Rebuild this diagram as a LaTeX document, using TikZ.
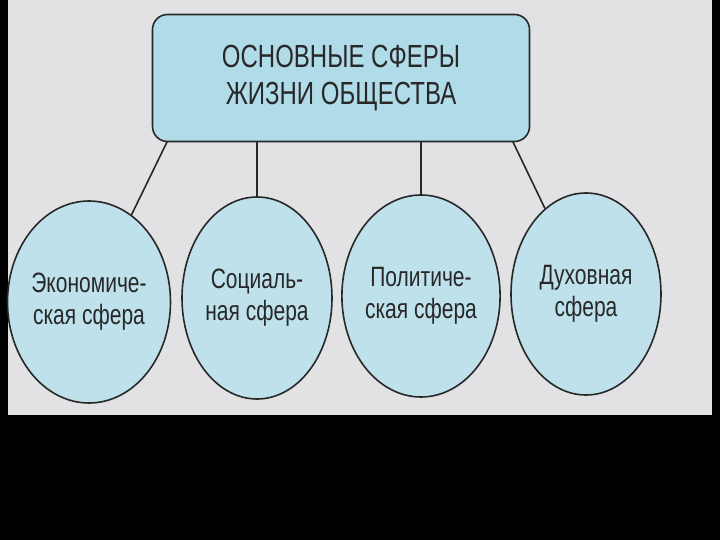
\documentclass[tikz,border=0pt]{standalone}
\usepackage{fontspec}
\setmainfont{Liberation Sans}[FakeStretch=0.75]
\usepackage{tikz}
\usetikzlibrary{
	arrows.meta,
	positioning,
	shapes.geometric
}
\definecolor{skan}{RGB}{226,226,228}
\definecolor{goluboy}{RGB}{176,219,233}
\definecolor{svetlogoluboy}{RGB}{190,225,236}
\definecolor{liniya}{RGB}{40,40,40}

\begin{document}
\begin{tikzpicture}[x=1pt, y=-1pt,
  glavnaya/.style={rectangle, draw=liniya, line width=1.6pt, fill=goluboy,
    rounded corners=15pt, align=center, minimum width=377pt,
    minimum height=127pt, text=liniya, font=\fontsize{32}{37}\selectfont},
  sfera/.style={ellipse, draw=liniya, line width=1.6pt, fill=svetlogoluboy,
    align=center, inner sep=0pt, minimum width=150pt, minimum height=202pt,
    text=liniya, font=\fontsize{28}{32}\selectfont},
  svyaz/.style={draw=liniya, line width=1.6pt}
]
\fill[black] (0,0) rectangle (720,540);
\fill[skan] (8,0) rectangle (712,415);
\useasboundingbox (0,0) rectangle (720,540);

\node[glavnaya] (obshchestvo) at (341,78) {ОСНОВНЫЕ СФЕРЫ\\ЖИЗНИ ОБЩЕСТВА};

\node[sfera] (ekon) at (89,302) {Экономиче-\\ская сфера};
\node[sfera] (soc) at (257,298) {Социаль-\\ная сфера};
\node[sfera] (polit) at (421,296) {Политиче-\\ская сфера};
\node[sfera] (dukh) at (586,294) {Духовная\\сфера};

\coordinate (v1) at (167,142);
\coordinate (v4) at (513,142);
\draw[svyaz] (v1) -- (ekon);
\draw[svyaz] (obshchestvo.south -| soc.north) -- (soc.north);
\draw[svyaz] (obshchestvo.south -| polit.north) -- (polit.north);
\draw[svyaz] (v4) -- (dukh);
\end{tikzpicture}
\end{document}
